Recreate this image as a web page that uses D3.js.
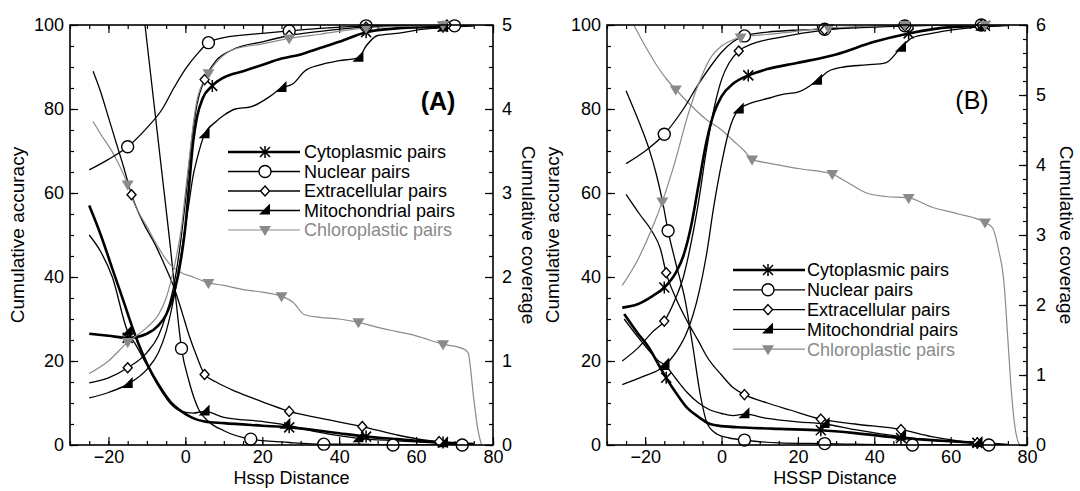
<!DOCTYPE html>
<html>
<head>
<meta charset="utf-8">
<script src="https://cdn.jsdelivr.net/npm/d3@7"></script>
<style>
  body { margin: 0; background: #fff; }
  svg { display: block; font-family: "Liberation Sans", Arial, sans-serif; }
</style>
</head>
<body>
<script>
// tick labels
const xTicks = [-20, 0, 20, 40, 60, 80];
const accTicks = [0, 20, 40, 60, 80, 100];
const covTicksA = [0, 1, 2, 3, 4, 5];
const covTicksB = [0, 1, 2, 3, 4, 5, 6];
const seriesNames = ["Cytoplasmic pairs", "Nuclear pairs", "Extracellular pairs", "Mitochondrial pairs", "Chloroplastic pairs"];

// ---- panel A, cumulative accuracy (left axis) ----
const accA_cyto = [[-25,26.5],[-20,26],[-15,25.5],[-10,26.5],[-7,28.5],[-5,31],[-3,36],[-1,45],[0,52],[1,62],[2,72],[3,78],[4.5,82.5],[7,85.5],[10,87.5],[15,89],[20,90.5],[25,92],[30,93],[35,94.5],[40,96],[47,98.3],[55,99.2],[67,99.6],[75,100]];
const accA_nuc = [[-25,65.5],[-20,68],[-15,71],[-10,75.5],[-6,80],[-3,85],[0,89.5],[3,93],[6,95.8],[10,97],[20,98],[27,98.6],[35,99.2],[47,99.8],[60,100],[70,99.8],[75,100]];
const accA_ext = [[-25,14.8],[-20,16],[-15,18.4],[-10,22],[-7,26],[-5,31],[-3,38],[-1,50],[0,58],[1,67],[2,75],[3,81],[5,87],[8,91.5],[12,94],[20,96],[27,97.5],[35,98.5],[47,99.5],[60,99.8],[68,100],[75,100]];
const accA_mit = [[-25,11.2],[-20,12.5],[-15,14.5],[-10,18],[-7,22],[-5,27],[-3,35],[-1,46],[0,52],[1,58],[2,64],[3,68],[5,74],[8,77],[10,78.5],[13,80],[17,80.5],[22,83],[25,85],[28,86],[31,89],[35,90.5],[40,91.5],[45,92.2],[47,95],[50,97.5],[55,98],[62,99],[67,99.4],[75,99.8]];
const accA_chl = [[-25,17],[-20,20],[-15,24.5],[-10,28],[-7,31],[-5,35],[-3,42],[-1,52],[0,60],[1,68],[2,76],[3,82],[6,88.5],[9,92],[12,94],[20,95.5],[27,96.8],[35,97.8],[47,99.3],[60,99.8],[67,100],[75,100]];

// ---- panel A, cumulative coverage (right axis) ----
const covA_cyto = [[-25,2.85],[-22,2.5],[-19,2.1],[-16,1.7],[-13,1.3],[-10,0.97],[-7,0.72],[-4,0.52],[-1,0.4],[2,0.32],[5,0.28],[10,0.26],[20,0.23],[27,0.21],[35,0.17],[40,0.14],[47,0.1],[55,0.07],[60,0.05],[67,0.03],[75,0.01]];
const covA_nuc = [[-11,5.2],[-10.5,5.0],[-8,4.0],[-6,3.2],[-4,2.4],[-2.5,1.75],[-1,1.15],[1,0.75],[3.5,0.42],[6,0.28],[10,0.17],[17,0.07],[27,0.03],[36,0.01],[45,0.01],[54,0],[63,0],[72,0]];
const covA_ext = [[-24,4.45],[-22,4.2],[-20,3.9],[-18,3.6],[-16,3.3],[-14,2.98],[-11,2.65],[-8,2.4],[-5,2.1],[-3,1.88],[-1,1.6],[1,1.3],[3,1.05],[5,0.84],[8,0.75],[12,0.66],[18,0.55],[22,0.48],[27,0.4],[35,0.32],[46,0.22],[55,0.12],[62,0.06],[66,0.04],[70,0.02]];
const covA_mit = [[-25,2.5],[-22,2.3],[-19,2.0],[-15,1.35],[-13,1.2],[-10,0.95],[-7,0.7],[-4,0.5],[-1,0.4],[2,0.38],[5,0.4],[10,0.33],[20,0.28],[26,0.24],[35,0.15],[45,0.08],[55,0.05],[67,0.02],[72,0.01]];
const covA_chl = [[-24,3.85],[-22,3.7],[-18.5,3.45],[-15,3.1],[-13.5,2.9],[-10,2.6],[-7,2.35],[-4,2.15],[-1,2.05],[2,2.0],[6,1.93],[10,1.9],[15,1.85],[20,1.82],[25,1.77],[28,1.7],[31,1.55],[35,1.52],[40,1.5],[45,1.46],[50,1.4],[55,1.35],[60,1.3],[67,1.2],[72,1.15],[73.5,1.1],[75,0.55],[76,0.2],[77,0]];

// ---- panel B, cumulative accuracy ----
const accB_cyto = [[-26,32.7],[-22,33.5],[-18,35.5],[-15,37.5],[-12,41],[-10,45],[-8,52],[-6,62],[-4,72],[-2,79],[0,83],[3,86],[7,88],[12,89.5],[20,91],[30,93],[40,96],[49,98],[60,99.5],[69,99.8],[75,100]];
const accB_nuc = [[-25,67],[-20,70],[-15,74],[-10,80],[-6,86],[-3,90],[0,93.5],[3,96],[6,97.4],[12,98.3],[20,98.8],[27,99],[35,99.5],[48,99.8],[60,100],[68,100],[75,100]];
const accB_ext = [[-26,20],[-22,23],[-18,27],[-15,29.5],[-12,35],[-10,40],[-8,48],[-6,58],[-4,70],[-2,80],[0,87],[2,91],[4.5,93.8],[8,95.5],[15,97],[27,98.8],[40,99.5],[48,99.8],[60,100],[68,100],[75,100]];
const accB_mit = [[-26,14.4],[-20,16.5],[-15,18.8],[-12,22],[-9,27],[-6,36],[-4,45],[-2,57],[0,67],[2,75],[4.5,79.9],[8,81.5],[12,82.5],[16,83.5],[20,84],[25,86.7],[28,89],[32,90],[38,90.5],[43,91],[47,94.6],[50,97],[55,98],[62,99],[68,99.6],[75,100]];
const accB_chl = [[-26,38],[-22,44],[-18,52],[-15.5,58],[-12,68],[-9,78],[-6,86],[-3,92],[0,95],[3,96.5],[5,97],[15,98],[28,99.3],[40,99.7],[48,100],[69,100],[75,100]];

// ---- panel B, cumulative coverage ----
const covB_cyto = [[-25.5,1.87],[-22,1.6],[-19,1.39],[-16.5,1.15],[-14.5,0.96],[-12,0.75],[-9,0.53],[-6,0.4],[-3,0.3],[0,0.27],[6,0.25],[15,0.23],[26,0.21],[35,0.17],[47,0.1],[55,0.07],[67,0.03],[75,0]];
const covB_nuc = [[-25,5.06],[-23,4.8],[-21,4.53],[-19,4.23],[-17,3.85],[-15.5,3.49],[-14,3.06],[-12,2.6],[-9.5,2.06],[-7.5,1.4],[-5.5,0.7],[-3.7,0.3],[-1,0.15],[2,0.1],[6,0.07],[15,0.03],[27,0.02],[50,0],[70,0]];
const covB_ext = [[-25,3.58],[-21.5,3.3],[-18.3,3.06],[-16,2.8],[-14.5,2.46],[-12,2.1],[-9,1.77],[-6,1.48],[-3.7,1.25],[0,1.0],[3,0.82],[6,0.72],[12,0.6],[18,0.5],[26,0.37],[35,0.3],[47,0.22],[55,0.12],[62,0.06],[67,0.03],[70,0.02]];
const covB_mit = [[-25.5,1.8],[-22,1.55],[-19,1.35],[-16.5,1.2],[-15,1.15],[-12,0.95],[-9,0.75],[-6,0.6],[-3,0.5],[0,0.45],[3,0.42],[6,0.44],[12,0.38],[20,0.33],[27,0.3],[35,0.22],[47,0.12],[55,0.07],[67,0.03],[72,0.01]];
const covB_chl = [[-23,6],[-20,5.7],[-17.3,5.45],[-14,5.2],[-12,5.08],[-8,4.85],[-4,4.65],[0,4.5],[3,4.35],[6,4.2],[8,4.08],[12,4.03],[20,3.95],[29,3.87],[33,3.75],[38,3.6],[43,3.55],[49,3.53],[55,3.4],[62,3.3],[69,3.18],[71,3.1],[72.5,2.8],[74,2.3],[75,1.5],[76,0.7],[77,0.2],[78,0]];

// marker x positions per series (cyto, nuc, ext, mit, chl)
const mkAccA = [[-15,7,47,67], [-15,6,27,47,70], [-15,5,27,47,68], [-15,5,25,45,67], [-15,6,27,47,67]];
const mkCovA = [[27,47,67], [-1,17,36,54,72], [-14,5,27,46,66], [-15,5,26,45,67], [-15,6,25,45,67]];
const mkAccB = [[-15,7,49,69], [-15,6,27,48,68], [-15,4.5,27,48,68], [-15,4.5,25,47,68], [-15.5,5,28,48,69]];
const mkCovB = [[-14.5,26,47,67], [-14,6,27,50,70], [-14.5,6,26,47,67], [-15,6,27,47,67], [-12,8,29,49,69]];

const width = 1080, height = 491;
const styles = [
  { stroke: "#000", width: 2.6, shape: "x" },
  { stroke: "#000", width: 1.3, shape: "circle" },
  { stroke: "#000", width: 1.3, shape: "diamond" },
  { stroke: "#000", width: 1.3, shape: "wedge" },
  { stroke: "#8a8a8a", width: 1.2, shape: "down" }
];

const svg = d3.select("body").append("svg")
  .attr("width", width).attr("height", height)
  .attr("viewBox", [0, 0, width, height]);

function drawMarker(g, shape, cx, cy, color) {
  const m = g.append("g").attr("transform", `translate(${cx},${cy})`);
  if (shape === "x") {
    m.append("path").attr("d", "M-5,-5L5,5M-5,5L5,-5M0,-6L0,6")
      .attr("stroke", color).attr("stroke-width", 1.5).attr("fill", "none");
  } else if (shape === "circle") {
    m.append("circle").attr("r", 6).attr("fill", "#fff").attr("stroke", color).attr("stroke-width", 1.4);
  } else if (shape === "diamond") {
    m.append("path").attr("d", "M0,-5L4.5,0L0,5L-4.5,0Z")
      .attr("fill", "#fff").attr("stroke", color).attr("stroke-width", 1.4);
  } else if (shape === "wedge") {
    m.append("path").attr("d", "M-6,4L5,4L5,-7Z").attr("fill", color);
  } else {
    m.append("path").attr("d", "M-6,-4L6,-4L0,6Z").attr("fill", color);
  }
}

function drawPanel(p) {
  const x = d3.scaleLinear().domain([-30, 80]).range([p.x0, p.x1]);
  const yAcc = d3.scaleLinear().domain([0, 100]).range([p.y1, p.y0]);
  const yCov = d3.scaleLinear().domain([0, p.covMax]).range([p.y1, p.y0]);

  const clipId = "clip" + p.id;
  svg.append("clipPath").attr("id", clipId)
    .append("rect").attr("x", p.x0).attr("y", p.y0)
    .attr("width", p.x1 - p.x0).attr("height", p.y1 - p.y0);

  // axes with inward ticks
  const minorX = d3.range(-30, 81, 5);
  const minorY = d3.range(0, 101, 5);
  const minorC = d3.range(0, p.covMax + 0.001, p.covMinor);
  const noLabel = () => "";

  function ax(axis, tr) {
    return svg.append("g").attr("transform", tr).call(axis)
      .call(g => g.select(".domain").remove());
  }
  const font = g => g.selectAll("text").attr("font-size", 18).attr("fill", "#000")
    .attr("font-family", "Liberation Sans, Arial, sans-serif");

  ax(d3.axisBottom(x).tickValues(minorX).tickFormat(noLabel).tickSize(-4), `translate(0,${p.y1})`);
  ax(d3.axisBottom(x).tickValues(xTicks).tickFormat(d3.format("d")).tickSize(-8).tickPadding(5), `translate(0,${p.y1})`).call(font);
  ax(d3.axisTop(x).tickValues(minorX).tickFormat(noLabel).tickSize(-4), `translate(0,${p.y0})`);
  ax(d3.axisTop(x).tickValues(xTicks).tickFormat(noLabel).tickSize(-8), `translate(0,${p.y0})`);
  ax(d3.axisLeft(yAcc).tickValues(minorY).tickFormat(noLabel).tickSize(-4), `translate(${p.x0},0)`);
  ax(d3.axisLeft(yAcc).tickValues(accTicks).tickFormat(d3.format("d")).tickSize(-8).tickPadding(6), `translate(${p.x0},0)`).call(font);
  ax(d3.axisRight(yCov).tickValues(minorC).tickFormat(noLabel).tickSize(-4), `translate(${p.x1},0)`);
  ax(d3.axisRight(yCov).tickValues(p.covTicks).tickFormat(d3.format("d")).tickSize(-8).tickPadding(9), `translate(${p.x1},0)`).call(font);

  svg.selectAll(".tick line").attr("stroke", "#000").attr("stroke-width", 1.2);

  // curves
  const lineAcc = d3.line().x(d => x(d[0])).y(d => yAcc(d[1])).curve(d3.curveMonotoneX);
  const lineCov = d3.line().x(d => x(d[0])).y(d => yCov(d[1])).curve(d3.curveMonotoneX);
  const curves = svg.append("g").attr("clip-path", `url(#${clipId})`).attr("fill", "none");
  const marks = svg.append("g");

  function plot(series, mks, line, yScale) {
    series.forEach((data, i) => {
      const s = styles[i];
      curves.append("path").datum(data).attr("d", line)
        .attr("stroke", s.stroke).attr("stroke-width", s.width);
    });
    series.forEach((data, i) => {
      const s = styles[i];
      mks[i].forEach(mx => {
        const pt = data.find(d => d[0] === mx);
        if (pt) drawMarker(marks, s.shape, x(pt[0]), yScale(pt[1]), s.stroke);
      });
    });
  }
  plot(p.cov, p.mkCov, lineCov, yCov);
  plot(p.acc, p.mkAcc, lineAcc, yAcc);

  // frame
  svg.append("rect").attr("x", p.x0).attr("y", p.y0)
    .attr("width", p.x1 - p.x0).attr("height", p.y1 - p.y0)
    .attr("fill", "none").attr("stroke", "#000").attr("stroke-width", 1.6);

  // titles
  svg.append("text").attr("x", (p.x0 + p.x1) / 2 + p.xTitleShift).attr("y", 484)
    .attr("text-anchor", "middle").attr("font-size", 18).text(p.xTitle);
  svg.append("text").attr("transform", `translate(${p.leftTitleX},235) rotate(-90)`)
    .attr("text-anchor", "middle").attr("font-size", 19).text("Cumulative accuracy");
  svg.append("text").attr("transform", `translate(${p.rightTitleX},235) rotate(90)`)
    .attr("text-anchor", "middle").attr("font-size", 19).text("Cumulative coverage");
  svg.append("text").attr("x", p.tag[0]).attr("y", p.tag[1]).attr("dy", "0.35em")
    .attr("text-anchor", "middle").attr("font-size", 25)
    .attr("font-weight", p.tagBold ? "bold" : "normal").text(p.tagText);

  // legend
  const lg = svg.append("g");
  seriesNames.forEach((name, i) => {
    const s = styles[i];
    const yy = p.leg.y + i * p.leg.dy;
    lg.append("line").attr("x1", p.leg.x).attr("x2", p.leg.x2).attr("y1", yy).attr("y2", yy)
      .attr("stroke", s.stroke).attr("stroke-width", s.width);
    drawMarker(lg, s.shape, p.leg.mk, yy, s.stroke);
    lg.append("text").attr("x", p.leg.tx).attr("y", yy).attr("dy", "0.35em")
      .attr("font-size", 18).attr("fill", i === 4 ? "#8a8a8a" : "#000").text(name);
  });
}

drawPanel({
  id: "A", x0: 70, x1: 493, y0: 25, y1: 445, covMax: 5, covMinor: 0.25, covTicks: covTicksA,
  acc: [accA_cyto, accA_nuc, accA_ext, accA_mit, accA_chl],
  cov: [covA_cyto, covA_nuc, covA_ext, covA_mit, covA_chl],
  mkAcc: mkAccA, mkCov: mkCovA,
  xTitle: "Hssp Distance", xTitleShift: 10, leftTitleX: 24, rightTitleX: 522,
  tag: [438, 101], tagText: "(A)", tagBold: true,
  leg: { x: 228, x2: 300, mk: 265, tx: 304, y: 152, dy: 19.5 }
});
drawPanel({
  id: "B", x0: 607, x1: 1027, y0: 25, y1: 445, covMax: 6, covMinor: 0.2, covTicks: covTicksB,
  acc: [accB_cyto, accB_nuc, accB_ext, accB_mit, accB_chl],
  cov: [covB_cyto, covB_nuc, covB_ext, covB_mit, covB_chl],
  mkAcc: mkAccB, mkCov: mkCovB,
  xTitle: "HSSP Distance", xTitleShift: 18, leftTitleX: 559, rightTitleX: 1060,
  tag: [972, 100], tagText: "(B)", tagBold: false,
  leg: { x: 733, x2: 805, mk: 768, tx: 807, y: 270, dy: 19.8 }
});
</script>
</body>
</html>
